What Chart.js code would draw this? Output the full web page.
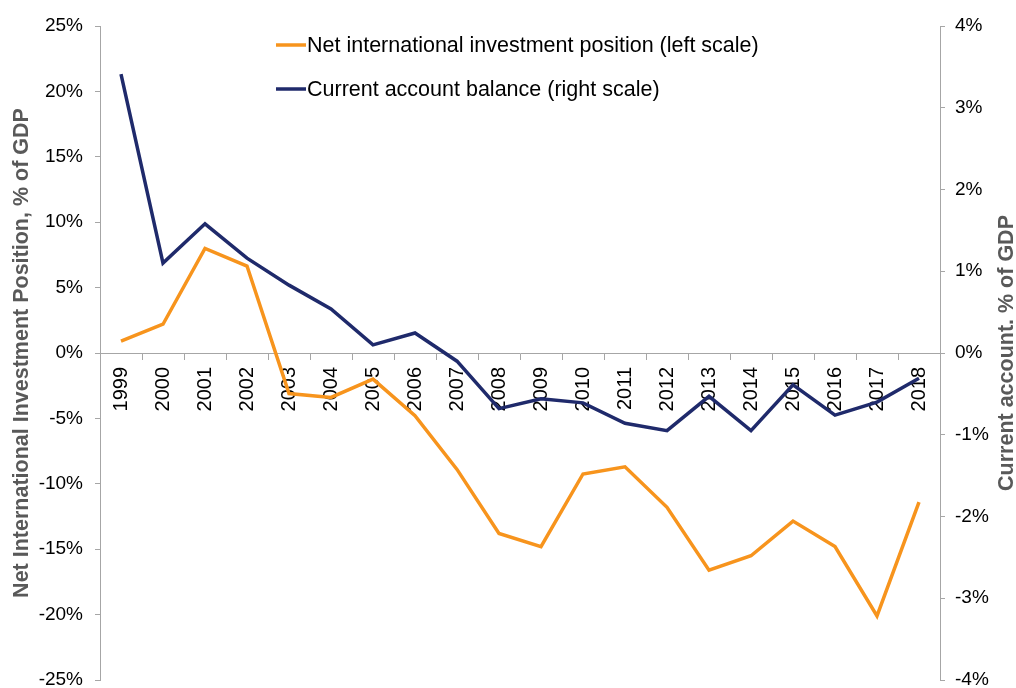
<!DOCTYPE html>
<html>
<head>
<meta charset="utf-8">
<script src="https://cdn.jsdelivr.net/npm/chart.js@4.4.1/dist/chart.umd.min.js"></script>
<style>
html,body{margin:0;padding:0;background:#fff;}
#wrap{width:1016px;height:688px;position:relative;}
</style>
</head>
<body>
<div id="wrap"><canvas id="c" width="1016" height="688"></canvas></div>
<script>
const years = ['1999','2000','2001','2002','2003','2004','2005','2006','2007','2008','2009','2010','2011','2012','2013','2014','2015','2016','2017','2018'];
const niip = [0.9, 2.2, 8.0, 6.65, -3.1, -3.4, -2.0, -4.8, -8.9, -13.8, -14.8, -9.25, -8.7, -11.8, -16.6, -15.5, -12.85, -14.8, -20.1, -11.4];
const currentAccount = [3.41, 1.10, 1.58, 1.16, 0.83, 0.54, 0.10, 0.245, -0.10, -0.68, -0.56, -0.61, -0.86, -0.95, -0.53, -0.95, -0.39, -0.76, -0.60, -0.31];
const leftTicks = [25, 20, 15, 10, 5, 0, -5, -10, -15, -20, -25];
const rightTicks = [4, 3, 2, 1, 0, -1, -2, -3, -4];
const seriesNames = ['Net international investment position (left scale)', 'Current account balance (right scale)'];
const axisTitles = ['Net International Investment Position, % of GDP', 'Current account. % of GDP'];

const FONT = '"Liberation Sans", Arial, sans-serif';
const ORANGE = '#F7941D';
const NAVY = '#1F2A6B';
const AXIS = '#A6A6A6';

const overlay = {
  id: 'overlay',
  afterDraw(chart) {
    const ctx = chart.ctx;
    const ca = chart.chartArea;
    ctx.save();
    // legend
    ctx.font = '21.5px ' + FONT;
    ctx.textBaseline = 'middle';
    ctx.textAlign = 'left';
    const rows = [45, 89];
    chart.data.datasets.forEach((ds, i) => {
      const y = rows[i];
      ctx.strokeStyle = ds.borderColor;
      ctx.lineWidth = 3.5;
      ctx.beginPath();
      ctx.moveTo(276, y);
      ctx.lineTo(306, y);
      ctx.stroke();
      ctx.fillStyle = '#000';
      ctx.fillText(ds.label, 307, y + 1);
    });
    // axis titles
    ctx.font = 'bold 21.5px ' + FONT;
    ctx.fillStyle = '#595959';
    ctx.textAlign = 'center';
    const cy = (ca.top + ca.bottom) / 2;
    [[22, axisTitles[0]], [1007, axisTitles[1]]].forEach(([x, t]) => {
      ctx.save();
      ctx.translate(x, cy);
      ctx.rotate(-Math.PI / 2);
      ctx.fillText(t, 0, 0);
      ctx.restore();
    });
    ctx.restore();
  }
};

new Chart(document.getElementById('c'), {
  type: 'line',
  data: {
    labels: years,
    datasets: [
      { label: seriesNames[0], data: niip, yAxisID: 'y', borderColor: ORANGE, backgroundColor: ORANGE, borderWidth: 3.5, pointRadius: 0, tension: 0 },
      { label: seriesNames[1], data: currentAccount, yAxisID: 'y1', borderColor: NAVY, backgroundColor: NAVY, borderWidth: 3.5, pointRadius: 0, tension: 0 }
    ]
  },
  options: {
    responsive: false,
    animation: false,
    devicePixelRatio: 1,
    layout: { padding: { top: 26, bottom: 8, left: 0, right: 0 } },
    plugins: { legend: { display: false }, tooltip: { enabled: false } },
    scales: {
      x: {
        type: 'category',
        position: { y: 0 },
        offset: true,
        grid: { offset: true, drawOnChartArea: false, drawTicks: true, tickLength: 6, color: AXIS },
        border: { display: true, color: AXIS, width: 1 },
        ticks: { color: '#000', font: { family: FONT, size: 20 }, minRotation: 90, maxRotation: 90, padding: 8, autoSkip: false }
      },
      y: {
        position: 'left',
        min: -25, max: 25,
        afterBuildTicks(s) { s.ticks = leftTicks.map(v => ({ value: v })); },
        afterFit(s) { s.width = 100; s.paddingTop = 0; s.paddingBottom = 0; },
        grid: { drawOnChartArea: false, drawTicks: true, tickLength: 5, color: AXIS },
        border: { display: true, color: AXIS, width: 1 },
        ticks: { color: '#000', font: { family: FONT, size: 19 }, padding: 12, callback: v => v + '%' }
      },
      y1: {
        position: 'right',
        min: -4, max: 4,
        afterBuildTicks(s) { s.ticks = rightTicks.map(v => ({ value: v })); },
        afterFit(s) { s.width = 76; s.paddingTop = 0; s.paddingBottom = 0; },
        grid: { drawOnChartArea: false, drawTicks: true, tickLength: 5, color: AXIS },
        border: { display: true, color: AXIS, width: 1 },
        ticks: { color: '#000', font: { family: FONT, size: 19 }, padding: 10, callback: v => v + '%' }
      }
    }
  },
  plugins: [overlay]
});
</script>
</body>
</html>
